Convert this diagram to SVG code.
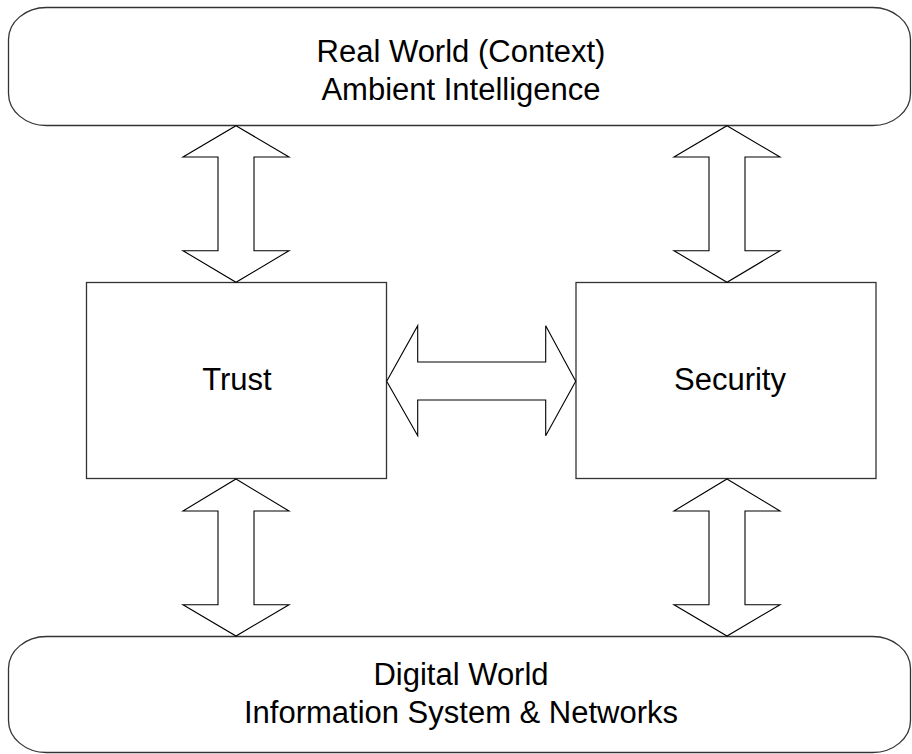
<svg xmlns="http://www.w3.org/2000/svg" width="912" height="754" viewBox="0 0 912 754">
<style>
.box{fill:#fff;stroke:#333;stroke-width:1.3}
.arr{fill:#fff;stroke:#000;stroke-width:1.1;stroke-linejoin:miter}
text{font-family:"Liberation Sans",Arial,sans-serif;font-size:31px;fill:#000;text-anchor:middle}
</style>
<rect width="912" height="754" fill="#fff"/>
<g id="real-world">
<rect class="box" x="8.5" y="7.5" width="902" height="118" rx="38" ry="32"/>
<text x="461" y="62">Real World (Context)</text>
<text x="461" y="100">Ambient Intelligence</text>
</g>
<g id="trust">
<rect class="box" x="86.5" y="282.5" width="300" height="196"/>
<text x="237" y="390">Trust</text>
</g>
<g id="security">
<rect class="box" x="576" y="282.5" width="300" height="196"/>
<text x="730" y="390">Security</text>
</g>
<g id="digital-world">
<rect class="box" x="8.5" y="636.5" width="902" height="116" rx="38" ry="32"/>
<text x="461" y="685">Digital World</text>
<text x="461" y="723">Information System &amp; Networks</text>
</g>
<g id="connectors">
<polygon class="arr" points="236,125.7 289,157 254,157 254,250.7 289,250.7 236,282.3 183,250.7 218,250.7 218,157 183,157"/>
<polygon class="arr" points="727,125.7 780,157 745,157 745,250.7 780,250.7 727,282.3 674,250.7 709,250.7 709,157 674,157"/>
<polygon class="arr" points="236,479 289,511 254,511 254,604.7 289,604.7 236,636 183,604.7 218,604.7 218,511 183,511"/>
<polygon class="arr" points="727,479 780,511 745,511 745,604.7 780,604.7 727,636 674,604.7 709,604.7 709,511 674,511"/>
<polygon class="arr" points="386.7,381.2 417.7,325.7 417.7,362 545.7,362 545.7,325.7 575.7,381.2 545.7,435.7 545.7,400 417.7,400 417.7,435.7"/>
</g>
</svg>
